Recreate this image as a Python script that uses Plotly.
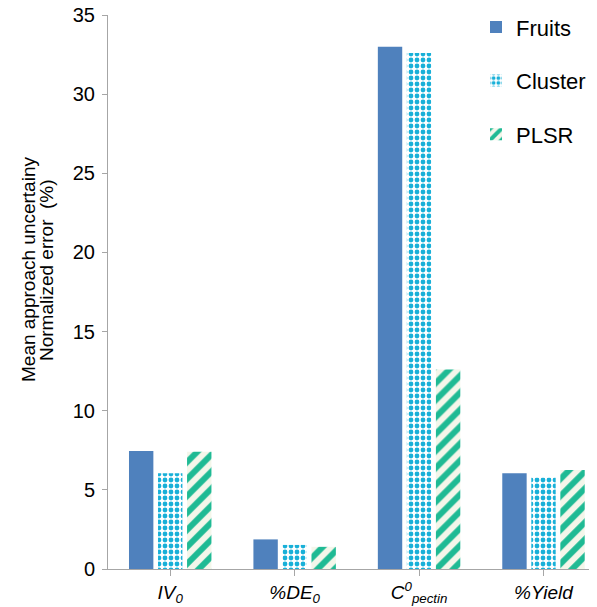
import plotly.graph_objects as go

categories = ["<i>IV<sub>0</sub></i>", "<i>%DE<sub>0</sub></i>", "<i>C<sup>0</sup><sub>pectin</sub></i>", "<i>%Yield</i>"]
fruits = [7.45, 1.87, 33.0, 6.05]
cluster = [6.05, 1.52, 32.6, 5.78]
plsr = [7.4, 1.4, 12.6, 6.25]

x = [0, 1, 2, 3]
fig = go.Figure()
fig.add_trace(go.Bar(x=x, y=fruits, name="Fruits", marker=dict(color="#4f81bd", line=dict(width=0)), legendgroup="a"))
fig.add_trace(go.Bar(x=x, y=cluster, name="Cluster",
                     marker=dict(color="white", line=dict(width=0),
                                 pattern=dict(shape=".", fgcolor="#18b0d8", bgcolor="white", size=6,
                                              solidity=0.5, fgopacity=1, fillmode="replace")),
                     legendgroup="b"))
fig.add_trace(go.Bar(x=x, y=plsr, name="PLSR",
                     marker=dict(color="#f4f6ea", line=dict(width=0),
                                 pattern=dict(shape="/", fgcolor="#1fba94", bgcolor="#f4f6ea", size=12,
                                              solidity=0.5, fgopacity=1, fillmode="replace")),
                     legendgroup="c"))

# page has an 8px body margin; figure is offset accordingly
fig.update_layout(
    width=589, height=599,
    margin=dict(l=100, r=0, t=7, b=38, autoexpand=False),
    paper_bgcolor="white", plot_bgcolor="white",
    font=dict(family="Liberation Sans, Arial", size=19, color="#000000"),
    barmode="group", bargap=0.30, bargroupgap=0.16,
    showlegend=True,
    legend=dict(x=(476 - 108) / 489, y=1.016, xanchor="left", yanchor="top", font=dict(size=22),
                tracegroupgap=22, bgcolor="rgba(0,0,0,0)", itemwidth=30),
    xaxis=dict(range=[-0.5, 3.43], tickmode="array", tickvals=x, ticktext=categories,
               showline=True, linecolor="#a6a6a6", linewidth=1, ticks="outside", tickson="boundaries",
               ticklen=6, tickcolor="#a6a6a6", showgrid=False, tickfont=dict(size=19), zeroline=False,
               automargin=False),
    yaxis=dict(range=[0, 35], dtick=5, showline=True, linecolor="#a6a6a6", linewidth=1,
               ticks="outside", ticklen=5, tickcolor="#a6a6a6", showgrid=False, zeroline=False,
               tickfont=dict(size=20), automargin=False, ticklabelstandoff=3,
               ticklabeloverflow="allow"),
    annotations=[
        dict(text="Mean approach uncertainy", xref="paper", yref="paper",
             x=(28 - 108) / 489, y=(569 - 270) / 554, textangle=-90, showarrow=False,
             font=dict(size=19), xanchor="center", yanchor="middle"),
        dict(text="Normalized error  (%)", xref="paper", yref="paper",
             x=(46 - 108) / 489, y=(569 - 270) / 554, textangle=-90, showarrow=False,
             font=dict(size=19), xanchor="center", yanchor="middle"),
    ],
)

fig.write_html("out.html")
